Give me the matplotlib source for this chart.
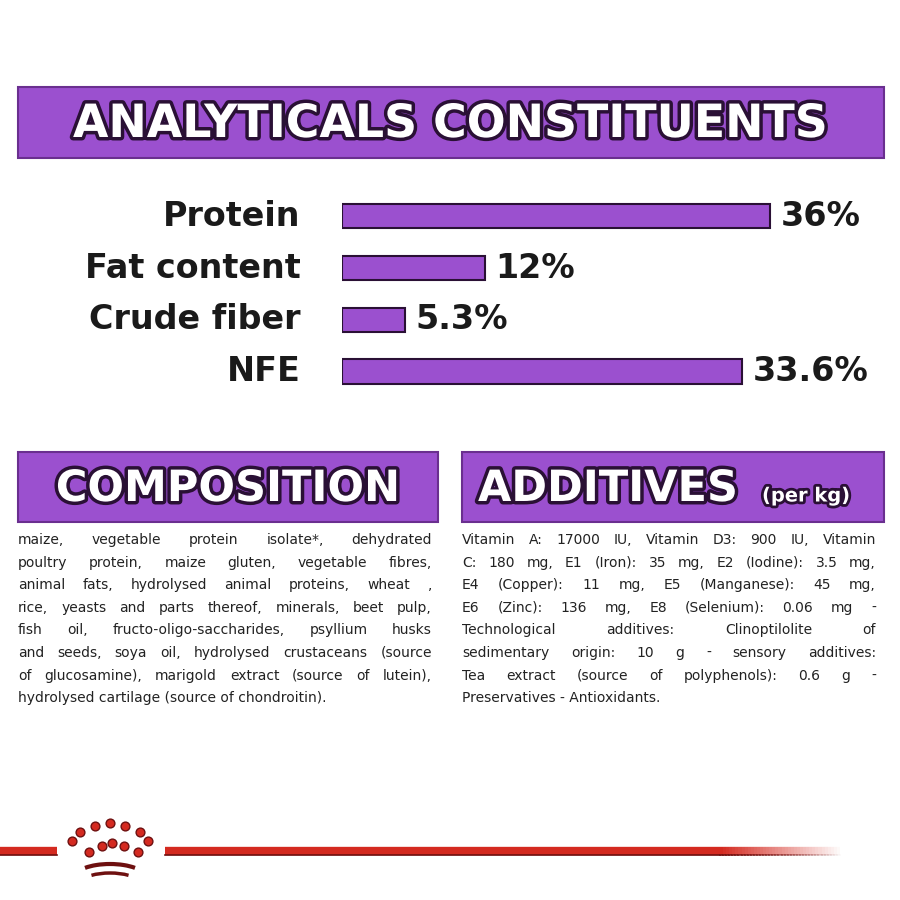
import matplotlib.pyplot as plt
import matplotlib.patheffects as pe
from matplotlib.patches import Rectangle, Arc
import numpy as np

labels = ['Protein', 'Fat content', 'Crude fiber', 'NFE']
values = [36, 12, 5.3, 33.6]
value_text = ['36%', '12%', '5.3%', '33.6%']

composition = [
    "maize, vegetable protein isolate*, dehydrated",
    "poultry protein, maize gluten, vegetable fibres,",
    "animal fats, hydrolysed animal proteins, wheat ,",
    "rice, yeasts and parts thereof, minerals, beet pulp,",
    "fish oil, fructo-oligo-saccharides, psyllium husks",
    "and seeds, soya oil, hydrolysed crustaceans (source",
    "of glucosamine), marigold extract (source of lutein),",
    "hydrolysed cartilage (source of chondroitin).",
]
additives = [
    "Vitamin A: 17000 IU, Vitamin D3: 900 IU, Vitamin",
    "C: 180 mg, E1 (Iron): 35 mg, E2 (Iodine): 3.5 mg,",
    "E4 (Copper): 11 mg, E5 (Manganese): 45 mg,",
    "E6 (Zinc): 136 mg, E8 (Selenium): 0.06 mg -",
    "Technological additives: Clinoptilolite of",
    "sedimentary origin: 10 g - sensory additives:",
    "Tea extract (source of polyphenols): 0.6 g -",
    "Preservatives - Antioxidants.",
]

purple = '#9b50cf'
dark = '#2a1035'

fig = plt.figure(figsize=(9, 9), dpi=100)
ax = fig.add_axes([0, 0, 1, 1])
ax.set_xlim(0, 900)
ax.set_ylim(900, 0)
ax.axis('off')

outline = [pe.Stroke(linewidth=5, foreground=dark), pe.Normal()]


def header(x0, x1, y0, y1, text, size, tx=None):
    ax.add_patch(Rectangle((x0, y0), x1 - x0, y1 - y0, facecolor=purple,
                           edgecolor='#6a2f8f', linewidth=1.5))
    cx = (x0 + x1) / 2 if tx is None else tx
    ax.text(cx, (y0 + y1) / 2 + 2, text, ha='center' if tx is None else 'left',
            va='center', color='white', fontsize=size, fontweight='heavy',
            family='DejaVu Sans', path_effects=outline)


header(18, 884, 87, 158, 'ANALYTICALS CONSTITUENTS', 33)
header(18, 438, 452, 522, 'COMPOSITION', 31)
header(462, 884, 452, 522, 'ADDITIVES', 31, tx=478)
ax.text(762, 496, '(per kg)', ha='left', va='center', color='white', fontsize=14,
        fontweight='heavy', path_effects=[pe.Stroke(linewidth=4, foreground=dark), pe.Normal()])

# bars on their own axes
bx = fig.add_axes([342 / 900, 1 - 400 / 900, 460 / 900, 220 / 900])
bx.set_xlim(0, 460 / 11.9)
ys = np.arange(len(values))
bx.set_ylim(len(values) - 0.45, -0.7)
bx.barh(ys, values, height=0.47, color=purple, edgecolor=dark, linewidth=1.5)
bx.axis('off')
for y, v, lab, vt in zip(ys, values, labels, value_text):
    bx.text(v + 0.9, y, vt, ha='left', va='center', fontsize=24, fontweight='bold',
            color='#1a1a1a')
    bx.text(-3.5, y, lab, ha='right', va='center', fontsize=24, fontweight='bold',
            color='#1a1a1a')

# justified text
fig.canvas.draw()
renderer = fig.canvas.get_renderer()
fs = 10


def justify(lines, x0, x1, y0, dy):
    for i, line in enumerate(lines):
        y = y0 + i * dy
        words = line.split(' ')
        if i == len(lines) - 1 or len(words) == 1:
            ax.text(x0, y, line, fontsize=fs, va='center', color='#222222')
            continue
        objs = [ax.text(0, y, w, fontsize=fs, va='center', color='#222222') for w in words]
        widths = [o.get_window_extent(renderer).width * 900 / fig.bbox.width for o in objs]
        gap = (x1 - x0 - sum(widths)) / (len(words) - 1)
        x = x0
        for o, w in zip(objs, widths):
            o.set_x(x)
            x += w + gap


justify(composition, 18, 432, 540, 22.6)
justify(additives, 462, 876, 540, 22.6)

# red line with fade
for x0, x1 in [(0, 57), (165, 720)]:
    ax.plot([x0, x1], [851, 851], color='#d42a20', linewidth=6, solid_capstyle='butt')
    ax.plot([x0, x1], [855, 855], color='#6e1010', linewidth=1.2)
fx = np.linspace(720, 840, 40)
for i in range(len(fx) - 1):
    a = 1 - i / (len(fx) - 1)
    ax.plot(fx[i:i + 2], [851, 851], color='#d42a20', alpha=a, linewidth=6,
            solid_capstyle='butt')
    ax.plot(fx[i:i + 2], [855, 855], color='#6e1010', alpha=a, linewidth=1.2)

# crown
dots_x = [72, 80, 95, 110, 125, 140, 148, 89, 102, 112, 124, 138]
dots_y = [841, 832, 826, 823, 826, 832, 841, 852, 846, 843, 846, 852]
ax.scatter(dots_x, dots_y, s=40, color='#d42a20', edgecolor='#6e1010', linewidth=1, zorder=3)
ax.add_patch(Arc((110, 877), 70, 26, theta1=200, theta2=340, color='#6e1010', linewidth=3))
ax.add_patch(Arc((110, 884), 60, 22, theta1=205, theta2=335, color='#6e1010', linewidth=2.5))

fig.savefig('out.png', dpi=100, facecolor='white')
